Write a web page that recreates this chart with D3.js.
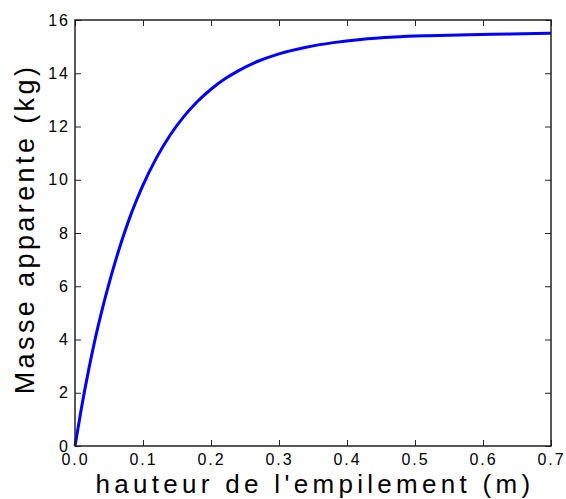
<!DOCTYPE html>
<html>
<head>
<meta charset="utf-8">
<script src="https://cdn.jsdelivr.net/npm/d3@7"></script>
<style>
  html, body { margin: 0; padding: 0; background: #fff; }
  svg { display: block; }
  text { font-family: "Liberation Sans", Arial, sans-serif; fill: #000; }
</style>
</head>
<body>
<svg id="chart" width="566" height="499"></svg>
<script>
// Pile height (m) and apparent mass measured under it (kg)
const heights = [0, 0.01, 0.02, 0.03, 0.04, 0.05, 0.06, 0.07, 0.08, 0.09, 0.10,
                 0.12, 0.14, 0.16, 0.18, 0.20, 0.22, 0.24, 0.27, 0.30, 0.34,
                 0.38, 0.42, 0.47, 0.52, 0.58, 0.64, 0.70];
const masses  = [0, 1.50, 2.85, 4.06, 5.13, 6.10, 6.99, 7.80, 8.54, 9.20, 9.80,
                 10.83, 11.68, 12.37, 12.94, 13.40, 13.78, 14.09, 14.46, 14.73, 14.98,
                 15.15, 15.27, 15.36, 15.41, 15.45, 15.47, 15.50];

const xTicks = [0, 0.1, 0.2, 0.3, 0.4, 0.5, 0.6, 0.7];
const yTicks = [0, 2, 4, 6, 8, 10, 12, 14, 16];

const xLabel = "hauteur de l'empilement (m)";
const yLabel = "Masse apparente (kg)";

const svg = d3.select("#chart");
const plot = { left: 75, right: 551, top: 20, bottom: 446 };

const x = d3.scaleLinear().domain([0, 0.7]).range([plot.left, plot.right]);
const y = d3.scaleLinear().domain([0, 16]).range([plot.bottom, plot.top]);

const tickLen = 6;

// Bottom axis with labels, ticks pointing into the plot
const gx = svg.append("g")
  .attr("transform", `translate(0,${plot.bottom})`)
  .call(d3.axisBottom(x).tickValues(xTicks).tickFormat(d3.format(".1f"))
    .tickSizeInner(-tickLen).tickSizeOuter(0).tickPadding(8));

// Left axis with labels
const gy = svg.append("g")
  .attr("transform", `translate(${plot.left},0)`)
  .call(d3.axisLeft(y).tickValues(yTicks).tickFormat(d3.format("d"))
    .tickSizeInner(-tickLen).tickSizeOuter(0).tickPadding(5));

// Mirrored ticks on top and right edges
const gxt = svg.append("g")
  .attr("transform", `translate(0,${plot.top})`)
  .call(d3.axisTop(x).tickValues(xTicks).tickFormat("")
    .tickSizeInner(-tickLen).tickSizeOuter(0));
const gyr = svg.append("g")
  .attr("transform", `translate(${plot.right},0)`)
  .call(d3.axisRight(y).tickValues(yTicks).tickFormat("")
    .tickSizeInner(-tickLen).tickSizeOuter(0));

[gx, gy, gxt, gyr].forEach(g => {
  g.select(".domain").remove();
  g.selectAll(".tick line").attr("stroke", "#222").attr("stroke-width", 1);
  g.selectAll(".tick text")
    .attr("font-size", 16)
    .attr("font-family", "Liberation Sans, Arial, sans-serif")
    .attr("letter-spacing", "2px")
    .attr("fill", "#000");
});

// The curve
const line = d3.line()
  .x((d, i) => x(heights[i]))
  .y(d => y(d))
  .curve(d3.curveMonotoneX);

svg.append("path")
  .datum(masses)
  .attr("fill", "none")
  .attr("stroke", "#0000ff")
  .attr("stroke-width", 3)
  .attr("stroke-linejoin", "round")
  .attr("d", line);

// Frame around the plot area
svg.append("rect")
  .attr("x", plot.left)
  .attr("y", plot.top)
  .attr("width", plot.right - plot.left)
  .attr("height", plot.bottom - plot.top)
  .attr("fill", "none")
  .attr("stroke", "#222")
  .attr("stroke-width", 1.5);

// Axis titles
svg.append("text")
  .attr("x", (plot.left + plot.right) / 2 + 2)
  .attr("y", 493)
  .attr("text-anchor", "middle")
  .attr("font-size", 26)
  .attr("letter-spacing", "4.3px")
  .text(xLabel);

svg.append("text")
  .attr("transform", `translate(34,${(plot.top + plot.bottom) / 2 - 4}) rotate(-90)`)
  .attr("text-anchor", "middle")
  .attr("font-size", 27)
  .attr("letter-spacing", "3.4px")
  .text(yLabel);
</script>
</body>
</html>
